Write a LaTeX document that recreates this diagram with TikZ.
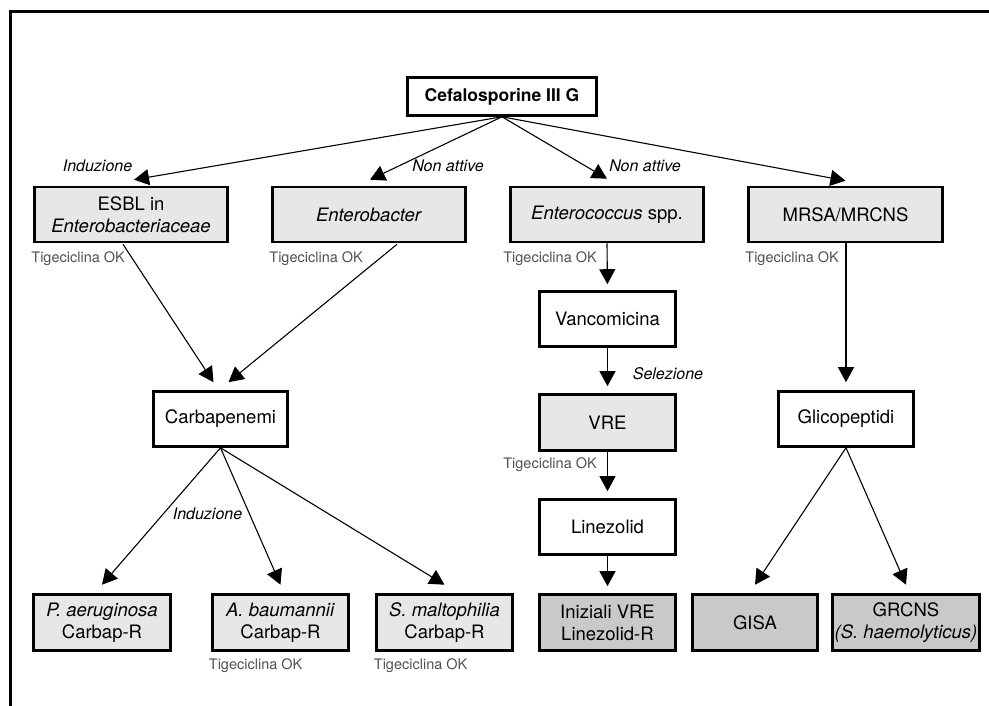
\documentclass[tikz,border=0pt]{standalone}
\usepackage{fontspec}
\setmainfont{TeX Gyre Heros}
\usetikzlibrary{arrows.meta,calc}
\definecolor{lightfill}{HTML}{E6E7E8}
\definecolor{darkfill}{HTML}{C7C9CB}
\definecolor{tigegray}{HTML}{505050}
\begin{document}
\begin{tikzpicture}[x=1pt,y=-1pt,
 box/.style={draw, line width=2.6pt, minimum height=55pt, inner sep=2pt, align=center, font=\fontsize{18.5}{22}\selectfont},
 wbox/.style={box, fill=white},
 lbox/.style={box, fill=lightfill},
 dbox/.style={box, fill=darkfill},
 arr/.style={-{Triangle[length=15pt,width=16pt]}, line width=1.1pt},
 tige/.style={anchor=base west, inner sep=0pt, text=tigegray, font=\fontsize{14.5}{16}\selectfont},
 tiger/.style={tige, anchor=base east},
 lab/.style={anchor=base, inner sep=0pt, font=\fontsize{16}{18}\selectfont\itshape},
]
\useasboundingbox (0,0) rectangle (989,706);
% frame
\draw[line width=2.8pt] (989,11.3) -- (10.4,11.3) -- (10.4,706);

% nodes
\node[wbox, minimum width=189pt, minimum height=38pt, font=\fontsize{17.5}{20}\selectfont\bfseries] (cef) at (502,96.5) {Cefalosporine III G};

\node[lbox, minimum width=193pt] (esbl) at (131,214.5) {ESBL in\\\textit{Enterobacteriaceae}};
\node[lbox, minimum width=193pt] (entb) at (369,214.5) {\textit{Enterobacter}};
\node[lbox, minimum width=193pt] (entc) at (607,214.5) {\textit{Enterococcus} spp.};
\node[lbox, minimum width=194pt] (mrsa) at (845.5,214.5) {MRSA/MRCNS};

\node[wbox, minimum width=134pt] (carb) at (220.5,419) {Carbapenemi};
\node[wbox, minimum width=136pt] (vanc) at (607.5,319) {Vancomicina};
\node[lbox, minimum width=136pt, minimum height=56pt] (vre) at (607.5,422.5) {VRE};
\node[wbox, minimum width=136pt] (linez) at (607.5,527) {Linezolid};
\node[wbox, minimum width=135pt] (glic) at (846,419) {Glicopeptidi};

\node[lbox, minimum width=137pt, minimum height=56pt] (paer) at (102,622.5) {\textit{P. aeruginosa}\\Carbap-R};
\node[lbox, minimum width=136pt, minimum height=56pt] (abau) at (280.5,622.5) {\textit{A. baumannii}\\Carbap-R};
\node[lbox, minimum width=136pt, minimum height=56pt] (smal) at (444.5,622.5) {\textit{S. maltophilia}\\Carbap-R};
\node[dbox, minimum width=136pt, minimum height=56pt] (iniz) at (607.5,622.5) {Iniziali VRE\\Linezolid-R};
\node[dbox, minimum width=125pt, minimum height=56pt] (gisa) at (755,622.5) {GISA};
\node[dbox, minimum width=145pt, minimum height=56pt] (grcns) at (906,622.5) {GRCNS\\\textit{(S. haemolyticus)}};

% arrows from Cefalosporine
\draw[arr] (cef.south) -- ($(esbl.north)+(3,-6)$);
\draw[arr] (cef.south) -- ($(entb.north)+(1,-6)$);
\draw[arr] (cef.south) -- ($(entc.north)+(0,-7)$);
\draw[arr] (cef.south) -- ($(mrsa.north)+(0,-5)$);

% to Carbapenemi
\draw[arr] ($(esbl.south)+(-8,1)$) -- ($(carb.north)+(-7,-8)$);
\draw[arr] ($(entb.south)+(28,1)$) -- ($(carb.north)+(8,-8)$);

% from Carbapenemi
\draw[arr] (carb.south) -- ($(paer.north)+(0,-8.5)$);
\draw[arr] (carb.south) -- ($(abau.north)+(0,-8.5)$);
\draw[arr] (carb.south) -- ($(smal.north)+(0,-8.5)$);

% Enterococcus chain
\draw[arr, shorten >=6pt] (entc.south) -- (vanc.north);
\draw[arr, shorten >=7pt] (vanc.south) -- (vre.north);
\draw[arr, shorten >=7pt] (vre.south) -- (linez.north);
\draw[arr, shorten >=7pt] (linez.south) -- (iniz.north);

% MRSA chain
\draw[arr] ($(mrsa.south)+(0.5,0)$) -- ($(glic.north)+(0,-8)$);
\draw[arr] (glic.south) -- ($(gisa.north)+(0,-8.5)$);
\draw[arr] (glic.south) -- ($(grcns.north)+(0,-8.5)$);

% arrow labels
\node[lab] (l1) at (97.5,172) {Induzione};
\node[lab] (l2) at (448,172) {Non attive};
\node[lab] (l3) at (645,172) {Non attive};
\node[lab] (l4) at (207.5,519) {Induzione};
\node[lab] (l5) at (668,379) {Selezione};

% Tigeciclina OK
\node[tige] (t1) at ($(esbl.south west)+(-2,19.5)$) {Tigeciclina OK};
\node[tige] (t2) at ($(entb.south west)+(-2,19.5)$) {Tigeciclina OK};
\node[tiger] (t3) at ($(entc.south)+(-10,19.5)$) {Tigeciclina OK};
\node[tige] (t4) at ($(mrsa.south west)+(-2,19.5)$) {Tigeciclina OK};
\node[tiger] (t5) at ($(vre.south)+(-10.5,17)$) {Tigeciclina OK};
\node[tige] (t6) at ($(abau.south west)+(-2.5,17.5)$) {Tigeciclina OK};
\node[tige] (t7) at ($(smal.south west)+(-1.5,17.5)$) {Tigeciclina OK};
\end{tikzpicture}
\end{document}
